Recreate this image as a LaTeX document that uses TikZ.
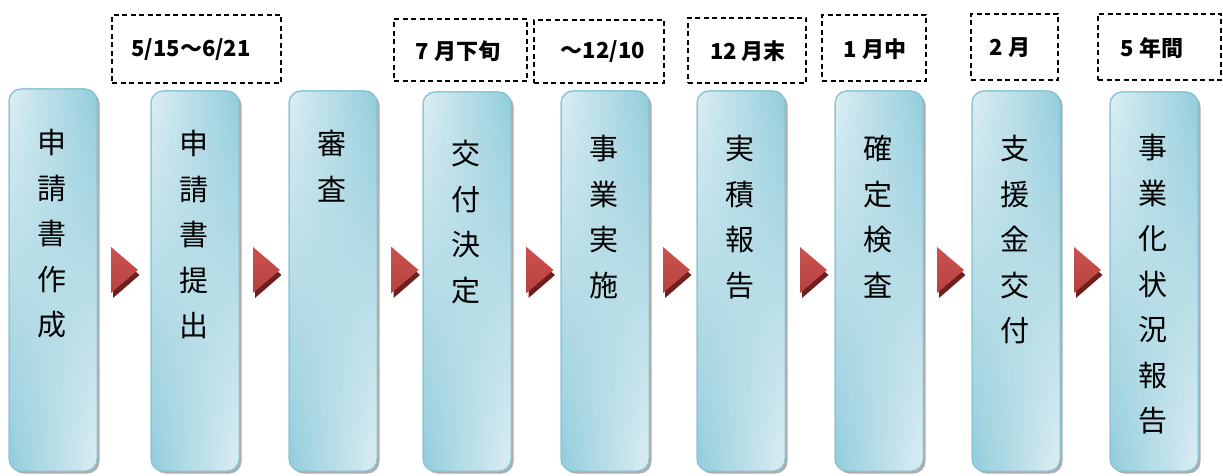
\documentclass[tikz,border=0pt]{standalone}
\usepackage{fontspec}
\newfontfamily\jp{Noto Sans CJK JP}
\usetikzlibrary{fadings,shadows}
\definecolor{boxlight}{HTML}{DDEEF3}
\definecolor{boxdark}{HTML}{92CDDC}
\definecolor{boxedge}{HTML}{86C3D4}
\definecolor{arrowtop}{HTML}{C9524F}
\definecolor{arrowmid}{HTML}{DA8A88}
\definecolor{arrowbot}{HTML}{B8423F}
\definecolor{arrowshade}{HTML}{6E1F1D}
\tikzset{
  x=1pt, y=-1pt,
  stage/.style={rectangle, rounded corners=12pt, minimum width=88pt, inner sep=0pt,
    draw=boxedge, line width=1pt, left color=boxlight, right color=boxdark,
    drop shadow={shadow xshift=2.5pt, shadow yshift=-2.5pt, fill=black!45, opacity=0.7},
    postaction={left color=boxdark, right color=boxlight, path fading=north},
    postaction={draw=boxedge, line width=1pt}},
  vtext/.style={anchor=north, inner sep=0pt, align=center,
    font=\jp\fontsize{29}{45.5}\selectfont},
  datebox/.style={rectangle, draw=black, line width=1.4pt, dash pattern=on 5pt off 3.5pt, inner sep=0pt},
  datetext/.style={inner sep=0pt, font=\jp\bfseries\fontsize{22}{24}\selectfont},
  chevron/.pic={
    \fill[arrowshade] (-11.5,-18) -- (15,5) -- (-11.5,28) -- cycle;
    \shade[top color=arrowtop, middle color=arrowmid, bottom color=arrowbot]
      (-13.5,-23) -- (13.5,0) -- (-13.5,23) -- cycle;
  }
}
\begin{document}
\begin{tikzpicture}
\useasboundingbox[fill=white] (0,0) rectangle (1223,476);

% stage boxes
\node[stage, minimum height=382pt] (b1) at (53,280) {};
\node[stage, minimum height=380pt] (b2) at (195,281) {};
\node[stage, minimum height=380pt] (b3) at (333,281) {};
\node[stage, minimum height=379pt] (b4) at (467,281.5) {};
\node[stage, minimum height=380pt] (b5) at (605,281) {};
\node[stage, minimum height=380pt] (b6) at (741,281) {};
\node[stage, minimum height=380pt] (b7) at (879,281) {};
\node[stage, minimum height=380pt] (b8) at (1016,281) {};
\node[stage, minimum height=379pt] (b9) at (1154,281.5) {};

% vertical texts
\node[vtext] (t1) at (52,129) {申\\請\\書\\作\\成};
\node[vtext] (t2) at (194,130) {申\\請\\書\\提\\出};
\node[vtext] (t3) at (332,130) {審\\査};
\node[vtext] (t4) at (466,140) {交\\付\\決\\定};
\node[vtext] (t5) at (604,135) {事\\業\\実\\施};
\node[vtext] (t6) at (740,135) {実\\積\\報\\告};
\node[vtext] (t7) at (878,135) {確\\定\\検\\査};
\node[vtext] (t8) at (1015,135) {支\\援\\金\\交\\付};
\node[vtext] (t9) at (1153,134) {事\\業\\化\\状\\況\\報\\告};

% arrows
\pic (a1) at (124.5,270) {chevron};
\pic (a2) at (266.5,270) {chevron};
\pic (a3) at (405,270) {chevron};
\pic (a4) at (540,270) {chevron};
\pic (a5) at (676.5,270) {chevron};
\pic (a6) at (813.5,270) {chevron};
\pic (a7) at (950.5,270) {chevron};
\pic (a8) at (1087.5,270) {chevron};

% date boxes
\node[datebox, minimum width=169pt, minimum height=68pt] (d1) at (196.5,49) {};
\node[datebox, minimum width=133pt, minimum height=62pt] (d2) at (460.5,50) {};
\node[datebox, minimum width=130pt, minimum height=63pt] (d3) at (599,51.5) {};
\node[datebox, minimum width=118pt, minimum height=65pt] (d4) at (747,50.5) {};
\node[datebox, minimum width=104pt, minimum height=66pt] (d5) at (874,48) {};
\node[datebox, minimum width=87pt, minimum height=66pt] (d6) at (1014.5,47) {};
\node[datebox, minimum width=123pt, minimum height=66pt] (d7) at (1159.5,47) {};

\node[datetext] (l1) at (191,50) {5/15〜6/21};
\node[datetext] (l2) at (458,51) {7 月下旬};
\node[datetext] (l3) at (603,52) {〜12/10};
\node[datetext] (l4) at (748,51) {12 月末};
\node[datetext] (l5) at (875,49) {1 月中};
\node[datetext] (l6) at (1010,48) {2 月};
\node[datetext] (l7) at (1152,48) {5 年間};
\end{tikzpicture}
\end{document}
